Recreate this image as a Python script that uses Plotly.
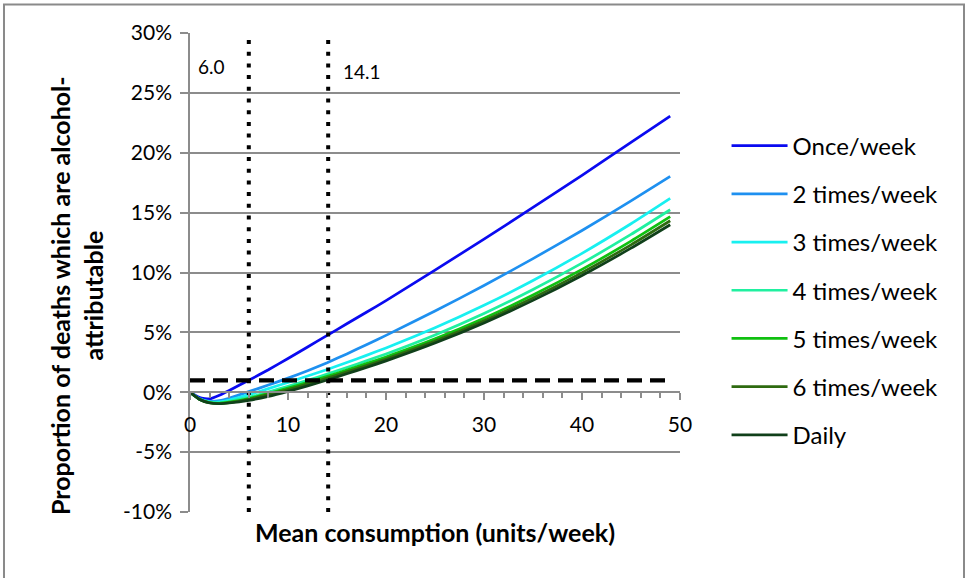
import plotly.graph_objects as go

# ---- data ----
x_units = [0, 1, 2, 3, 4, 6, 8, 10, 12, 14, 16, 18, 20, 25, 30, 35, 40, 45, 49]

once_week = [0, -0.45, -0.55, -0.25, 0.15, 1.0, 1.88, 2.82, 3.78, 4.75, 5.72, 6.68, 7.65, 10.2, 12.79, 15.43, 18.11, 20.87, 23.06]
two_week = [0, -0.55, -0.75, -0.7, -0.5, 0.05, 0.6, 1.18, 1.8, 2.47, 3.2, 3.97, 4.75, 6.78, 8.91, 11.16, 13.51, 15.98, 18.03]
three_week = [0, -0.58, -0.8, -0.8, -0.65, -0.2, 0.3, 0.82, 1.35, 1.9, 2.48, 3.08, 3.7, 5.38, 7.26, 9.33, 11.6, 14.07, 16.19]
four_week = [0, -0.6, -0.85, -0.88, -0.75, -0.43, 0.02, 0.5, 1.0, 1.52, 2.06, 2.62, 3.2, 4.79, 6.58, 8.58, 10.78, 13.18, 15.24]
five_week = [0, -0.6, -0.87, -0.92, -0.82, -0.52, -0.1, 0.35, 0.83, 1.33, 1.85, 2.39, 2.95, 4.46, 6.18, 8.12, 10.26, 12.62, 14.66]
six_week = [0, -0.6, -0.88, -0.94, -0.86, -0.58, -0.2, 0.23, 0.7, 1.19, 1.7, 2.23, 2.78, 4.27, 5.97, 7.88, 9.99, 12.31, 14.32]
daily = [0, -0.6, -0.9, -0.96, -0.9, -0.68, -0.35, 0.07, 0.53, 1.02, 1.54, 2.07, 2.62, 4.11, 5.79, 7.67, 9.75, 12.03, 13.99]

series_names = ["Once/week", "2 times/week", "3 times/week", "4 times/week",
                "5 times/week", "6 times/week", "Daily"]
series_values = [once_week, two_week, three_week, four_week, five_week, six_week, daily]
series_colors = ["#0A0AF0", "#1E90F0", "#18F0F0", "#20F0A0", "#10C010", "#2E6A10", "#10401A"]

threshold_x = [0, 49]
threshold_y = [1, 1]
crossing_points = [6.0, 14.1]
crossing_labels = ["6.0", "14.1"]
y_range = [-10, 30]

y_tick_vals = [-10, -5, 0, 5, 10, 15, 20, 25, 30]
y_tick_text = ["-10%", "-5%", "0%", "5%", "10%", "15%", "20%", "25%", "30%"]
x_tick_vals = [0, 10, 20, 30, 40, 50]

FONT = "Lato"
GRID = "#8C8C8C"

fig = go.Figure()

for i, (name, vals, col) in enumerate(zip(series_names, series_values, series_colors)):
    fig.add_trace(go.Scatter(
        x=x_units, y=vals, name=name, mode="lines",
        line=dict(color=col, width=2.7, shape="spline", smoothing=0.5),
        legendgroup=f"g{i}",
    ))

fig.add_trace(go.Scatter(
    x=threshold_x, y=threshold_y, mode="lines", showlegend=False, hoverinfo="skip",
    line=dict(color="black", width=4.2, dash="15px,8px"),
))

for cx in crossing_points:
    fig.add_trace(go.Scatter(
        x=[cx, cx], y=y_range, mode="lines", showlegend=False, hoverinfo="skip",
        line=dict(color="black", width=4, dash="4px,7.7px"),
    ))

fig.add_annotation(x=0.6, y=27.2, xref="x", yref="y", text=crossing_labels[0],
                   showarrow=False, xanchor="left", yanchor="middle",
                   font=dict(family=FONT, size=19, color="black"))
fig.add_annotation(x=15.4, y=26.8, xref="x", yref="y", text=crossing_labels[1],
                   showarrow=False, xanchor="left", yanchor="middle",
                   font=dict(family=FONT, size=19, color="black"))

# axis titles
fig.add_annotation(x=0.499, y=-0.042, xref="paper", yref="paper",
                   text="<b>Mean consumption (units/week)</b>", showarrow=False,
                   xanchor="center", yanchor="middle",
                   font=dict(family=FONT, size=25, color="black"))
fig.add_annotation(x=-0.2306, y=0.451, xref="paper", yref="paper",
                   text="<b>Proportion of deaths which are alcohol-<br>attributable</b>",
                   showarrow=False, textangle=-90, xanchor="center", yanchor="middle",
                   font=dict(family=FONT, size=25, color="black"))

# outer border
fig.add_shape(type="rect", xref="paper", yref="paper",
              x0=-0.3796, x1=1.5796, y0=-0.2, y1=1.0595,
              line=dict(color="#8A8A8A", width=2), fillcolor="rgba(0,0,0,0)", layer="below")

fig.update_layout(
    width=965, height=578,
    margin=dict(l=190, r=285, t=33, b=66, autoexpand=False),
    paper_bgcolor="white", plot_bgcolor="white",
    font=dict(family=FONT, size=20, color="black"),
    legend=dict(x=1.095, y=0.811, xanchor="left", yanchor="top",
                font=dict(family=FONT, size=24, color="black"),
                tracegroupgap=14, itemwidth=56, bgcolor="rgba(0,0,0,0)"),
    showlegend=True,
)

fig.update_xaxes(
    range=[0, 50], tickvals=x_tick_vals, ticks="outside", ticklen=7, tickwidth=1.5,
    tickcolor=GRID, showline=True, linecolor=GRID, linewidth=1.5, showgrid=False,
    zeroline=False, anchor="free", position=0.25, ticklabelstandoff=7,
    minor=dict(dtick=2, ticks="outside", ticklen=5, tickcolor=GRID, tickwidth=1.5, showgrid=False),
    tickfont=dict(family=FONT, size=21, color="black"),
)
fig.update_yaxes(
    range=y_range, tickvals=y_tick_vals, ticktext=y_tick_text, ticks="outside", ticklen=8,
    tickwidth=1.5, tickcolor=GRID, showline=True, linecolor=GRID, linewidth=1.5,
    showgrid=True, gridcolor=GRID, gridwidth=1.5, zeroline=False, ticklabelstandoff=4,
    tickfont=dict(family=FONT, size=21, color="black"),
)

fig.write_html("out.html", config={"displayModeBar": False},
               post_script="document.body.style.margin='0';document.body.style.overflow='hidden';")
